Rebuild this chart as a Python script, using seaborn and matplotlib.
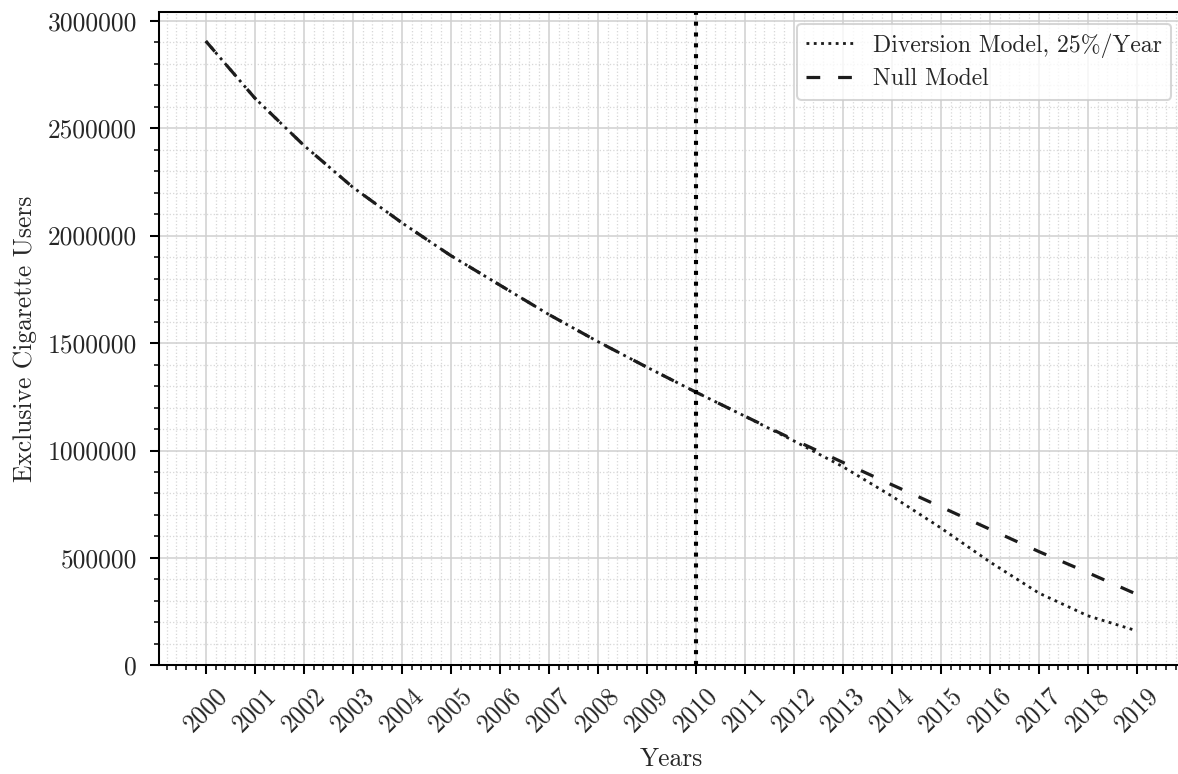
import numpy as np
import pandas as pd
import matplotlib
matplotlib.use("Agg")
import matplotlib.pyplot as plt
from matplotlib.ticker import MultipleLocator, FuncFormatter
import seaborn as sns

# ---- data ----
years = list(range(2000, 2020))
null_model = [2905000, 2640000, 2420000, 2225000, 2060000, 1907000, 1770000,
              1633000, 1507000, 1388000, 1272000, 1160000, 1050000, 945000,
              841000, 738000, 634000, 530000, 432000, 331000]
diversion_model = [2905000, 2640000, 2420000, 2225000, 2060000, 1907000, 1770000,
                   1633000, 1507000, 1388000, 1272000, 1160000, 1045000, 925000,
                   788000, 640000, 482000, 337000, 231000, 161000]
series_names = ["Diversion Model, 25%/Year", "Null Model"]
policy_year = 2010
x_label = "Years"
y_label = "Exclusive Cigarette Users"

sns.set_style("white")
plt.rcParams["font.family"] = ["cmr10", "DejaVu Serif"]
plt.rcParams["mathtext.fontset"] = "cm"
plt.rcParams["axes.unicode_minus"] = False
plt.rcParams["axes.formatter.use_mathtext"] = True

DPI = 184
fig = plt.figure(figsize=(1178 / DPI, 774 / DPI), dpi=DPI)
ax = fig.add_axes([0.13523, 0.14031, 0.86923, 0.84457])

df = pd.DataFrame({"year": years, "div": diversion_model, "null": null_model})
line_color = "#1c1c1c"
sns.lineplot(data=df, x="year", y="div", ax=ax, color=line_color, lw=1.1,
             linestyle=(0, (1, 1.6)), label=series_names[0])
sns.lineplot(data=df, x="year", y="null", ax=ax, color=line_color, lw=1.25,
             linestyle=(0, (4.3, 5.6)), label=series_names[1])
ax.axvline(policy_year, color="black", lw=1.6, linestyle=":")

ax.margins(x=0.05)
ax.set_ylim(0, 3042000)

ax.set_xticks(years)
ax.set_xticklabels([str(y) for y in years], rotation=45, fontsize=10)
ax.xaxis.set_minor_locator(MultipleLocator(0.2))
ax.yaxis.set_major_locator(MultipleLocator(500000))
ax.yaxis.set_minor_locator(MultipleLocator(100000))
ax.yaxis.set_major_formatter(FuncFormatter(lambda v, p: f"{int(round(v))}"))
ax.tick_params(axis="y", labelsize=10, pad=5.2)

ax.tick_params(which="major", direction="out", length=3.5, width=0.8,
               bottom=True, left=True, color="black")
ax.tick_params(which="minor", direction="out", length=2, width=0.6,
               bottom=True, left=True, color="black")

ax.grid(which="major", color="#d0d0d0", lw=0.6, linestyle="-")
ax.grid(which="minor", color="#d8d8d8", lw=0.5, linestyle=":")
ax.set_axisbelow(True)

for s in ax.spines.values():
    s.set_visible(True)
    s.set_color("black")
    s.set_linewidth(0.8)

ax.set_xlabel(x_label, fontsize=10, labelpad=4.5)
ax.set_ylabel(y_label, fontsize=10, labelpad=4.2)

leg = ax.legend(loc="upper right", fontsize=9.3, frameon=True, fancybox=True,
                framealpha=0.8, edgecolor="#cccccc", labelspacing=0.45)
leg.get_frame().set_linewidth(0.8)

fig.savefig("out.png", dpi=DPI)
